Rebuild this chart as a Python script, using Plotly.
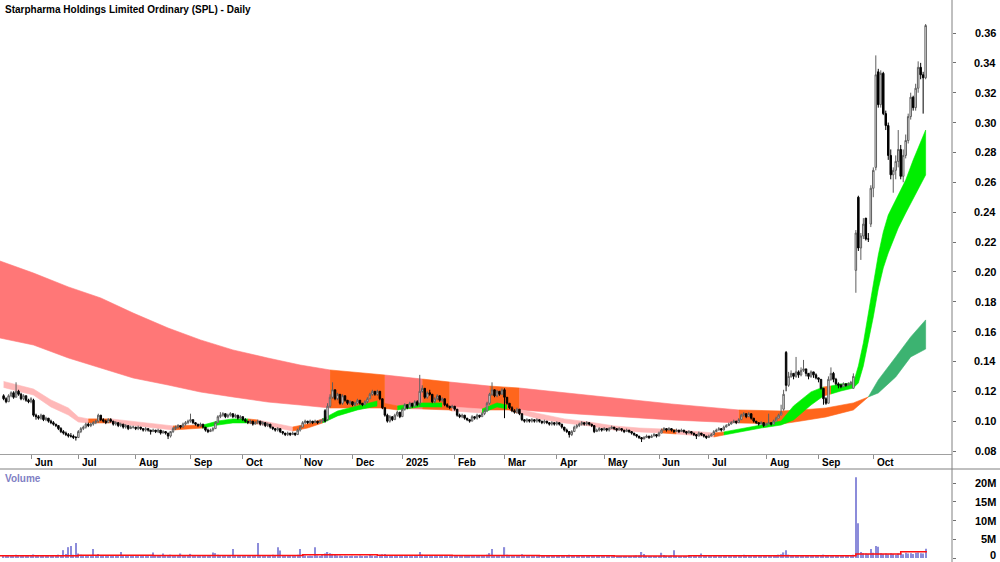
import numpy as np
import pandas as pd
import plotly.graph_objects as go
from plotly.subplots import make_subplots

TITLE = "Starpharma Holdings Limited Ordinary (SPL) - Daily"

# ---------------- daily OHLC (price x 1000), 17 May 2024 .. 30 Oct 2025 ----------------
opens = [
    117,115,113,117,119,116,120,118,115,117,114,
    113,114,104,103,102,104,101,102,100,99,98,97,95,93,92,91,90,90,89,
    89,93,95,96,98,97,98,99,100,104,101,100,99,101,100,98,99,97,98,96,97,95,96,
    96,95,96,95,94,95,94,93,94,93,94,92,93,92,90,93,95,96,97,96,98,99,
    100,101,99,98,97,98,96,94,93,94,95,99,103,104,105,103,104,105,103,104,102,
    103,101,100,99,100,98,99,100,98,99,97,98,96,95,94,95,93,92,91,92,91,92,91,
    94,96,99,100,99,100,99,100,99,100,107,101,110,116,121,115,118,112,117,114,112,
    113,111,112,114,112,111,113,115,118,120,118,120,115,109,104,100,103,101,104,106,
    103,108,111,109,112,110,113,112,120,122,116,119,118,113,115,117,114,115,111,110,109,
    110,108,104,103,104,102,101,100,103,102,104,103,105,107,112,118,121,117,120,118,
    121,116,112,109,107,106,108,105,101,100,101,100,101,100,101,100,99,100,99,98,99,
    98,99,98,96,94,93,91,93,96,97,98,99,98,99,98,97,93,94,95,
    94,95,94,95,96,95,94,95,94,93,94,93,92,91,90,89,88,89,90,89,90,91,
    90,92,94,95,94,95,94,93,94,93,94,93,92,93,92,91,90,92,91,90,
    89,90,91,93,94,95,94,96,97,98,99,100,99,101,104,105,103,105,102,100,99,98,99,
    97,98,99,98,100,102,104,108,146,124,130,132,130,133,131,134,135,132,130,133,131,
    129,128,122,115,112,128,132,128,125,124,123,125,124,125,122,201,250,216,224,236,222,232,
    256,270,334,312,333,306,298,278,265,268,274,282,264,278,288,304,317,310,323,337,332,330,
]
highs = [
    118,116,118,120,120,126,121,119,118,117,115,
    116,115,105,104,105,104,103,102,101,100,98,97,96,94,93,92,92,91,90,
    94,96,97,99,99,99,100,101,105,104,102,101,102,102,100,100,99,99,98,98,97,97,97,
    96,97,96,95,96,95,94,95,94,95,94,94,93,92,93,96,97,98,97,99,100,101,
    105,101,99,98,99,98,96,95,95,96,100,104,106,106,105,105,106,105,105,104,104,
    103,102,100,101,100,100,101,100,100,99,99,98,96,95,96,95,93,92,93,92,93,92,95,
    97,100,101,100,101,100,101,100,101,102,108,112,118,126,121,119,118,118,117,114,114,
    113,113,115,114,112,114,116,119,121,120,121,120,115,109,105,104,103,105,107,106,
    109,112,111,113,112,114,114,131,124,122,120,121,118,116,118,117,116,115,112,110,111,
    110,108,105,105,104,102,101,104,103,105,104,106,108,113,119,126,121,121,120,122,
    122,116,112,110,108,109,108,105,101,102,101,102,101,102,101,100,101,100,99,100,99,
    100,99,98,96,95,93,94,97,98,99,100,99,100,99,98,97,95,96,95,
    96,95,96,97,96,95,96,95,94,95,94,93,92,91,90,89,90,91,90,91,92,91,
    93,95,96,95,96,95,94,95,94,95,94,93,94,93,92,91,93,92,91,90,
    91,92,94,95,96,95,97,98,99,100,101,100,102,105,106,105,106,105,102,100,99,100,99,
    99,105,99,101,103,105,111,121,147,133,134,132,143,134,136,141,135,132,134,133,132,
    129,128,122,116,130,136,133,129,126,125,126,125,126,127,132,228,251,226,236,236,226,258,
    270,345,336,335,334,308,300,282,270,278,295,285,282,292,306,320,318,326,341,340,334,366,
]
lows = [
    114,112,113,116,115,116,117,114,114,113,112,
    112,103,101,101,101,100,100,99,98,97,96,94,92,91,90,89,89,88,87,
    89,92,94,95,96,96,97,98,99,100,99,98,99,99,97,97,96,96,95,95,94,95,95,
    94,94,94,93,93,93,91,93,92,92,91,92,91,88,89,92,94,95,95,96,97,98,
    99,98,97,96,96,95,93,92,93,93,95,99,102,103,102,102,103,102,102,101,101,
    100,99,98,98,97,98,98,97,97,96,96,95,94,93,93,92,91,90,90,90,91,90,91,
    93,96,98,98,98,98,99,98,99,99,99,100,109,115,114,114,111,111,113,111,111,
    110,110,111,111,110,111,112,115,117,117,117,114,108,103,99,99,100,101,103,102,
    103,107,108,109,109,110,110,110,119,115,115,117,112,112,114,113,113,110,109,108,109,
    107,103,102,102,101,100,99,100,101,101,102,103,104,106,111,117,116,116,117,118,
    102,111,108,106,105,105,104,100,99,99,99,99,99,99,99,98,98,98,97,97,97,
    97,97,95,93,92,89,90,93,95,96,97,97,97,97,96,92,93,93,93,
    94,93,93,95,94,93,94,93,92,93,92,91,90,89,88,86,88,89,88,89,90,89,
    90,92,94,93,94,93,92,93,92,93,92,91,92,91,90,88,90,90,89,88,
    89,90,91,93,94,93,94,96,97,98,99,98,99,101,103,102,103,101,99,98,97,98,96,
    97,98,97,98,100,102,104,107,120,123,129,128,129,129,130,133,130,128,129,129,128,
    126,121,111,111,112,127,126,124,122,122,123,123,124,124,122,186,214,208,222,221,220,230,
    250,268,310,310,305,295,275,262,253,262,270,262,260,276,286,302,308,308,320,329,306,329,
]
closes = [
    115,113,117,119,116,120,118,115,117,114,113,
    115,104,103,102,104,101,102,100,99,98,97,95,93,92,91,90,90,89,89,
    93,95,96,98,97,98,99,100,104,101,100,99,101,100,98,99,97,98,96,97,95,96,96,
    95,96,95,94,95,94,93,94,93,94,92,93,92,90,93,95,96,97,96,98,99,100,
    101,99,98,97,98,96,94,93,94,95,99,103,104,105,103,104,105,103,104,102,103,
    101,100,99,100,98,99,100,98,99,97,98,96,95,94,95,93,92,91,92,91,92,91,94,
    96,99,100,99,100,99,100,99,100,101,100,110,116,121,115,118,112,117,114,112,113,
    111,112,114,112,111,113,115,118,120,118,120,115,109,104,100,103,101,104,106,103,
    108,111,109,112,110,113,111,120,122,116,119,118,113,115,117,114,115,111,110,109,110,
    108,104,103,104,102,101,100,103,102,104,103,105,107,112,118,121,117,120,118,121,
    116,112,109,107,106,108,105,101,100,101,100,101,100,101,100,99,100,99,98,99,98,
    99,98,96,94,93,91,93,96,97,98,99,98,99,98,97,93,94,95,94,
    95,94,95,96,95,94,95,94,93,94,93,92,91,90,89,88,89,90,89,90,91,90,
    92,94,95,94,95,94,93,94,93,94,93,92,93,92,91,90,92,91,90,89,
    90,91,93,94,95,94,96,97,98,99,100,99,101,104,105,103,105,102,100,99,98,99,97,
    98,99,98,100,102,104,106,118,124,130,132,130,133,131,134,135,132,130,133,131,129,
    128,122,115,112,128,132,128,125,124,123,125,124,125,126,130,226,216,224,232,222,222,256,
    268,332,312,333,306,298,278,265,268,274,282,264,278,288,304,317,310,323,337,332,330,365,
]
# daily volume, thousands of shares
volumes = [
    450,380,620,510,300,880,420,350,560,410,330,
    600,950,520,480,390,610,450,700,820,540,660,900,760,2100,1100,2900,3200,850,4000,
    1200,900,760,650,540,800,2400,700,1100,600,450,520,380,610,470,550,680,1600,420,390,510,460,350,
    480,620,400,530,370,440,560,1500,600,490,420,1200,380,710,900,520,450,600,1200,430,560,480,
    1100,640,390,450,520,610,470,380,800,1500,1300,900,650,480,520,410,700,2400,560,430,390,
    480,350,420,600,510,380,4000,700,520,460,390,610,850,530,2900,2000,640,470,520,380,450,600,900,
    2400,800,650,520,610,480,2900,700,560,900,1200,1600,1300,1100,800,700,650,520,600,480,540,
    600,450,520,700,380,460,550,800,650,520,480,900,1000,1100,700,540,420,380,510,460,
    520,700,600,480,550,430,620,1600,900,700,560,480,620,510,450,380,420,560,470,390,430,
    500,620,480,410,390,560,470,520,430,380,460,540,700,900,1300,2400,800,650,560,480,
    2900,900,700,600,520,480,560,1000,450,380,420,500,360,410,470,390,350,430,380,460,400,
    500,420,600,800,650,900,560,480,420,500,380,450,410,360,480,800,520,430,400,
    460,380,420,500,440,360,410,470,390,430,520,480,600,700,650,1600,1100,560,480,500,450,420,
    520,1400,800,600,520,700,2100,600,480,520,430,460,400,510,470,600,550,1200,480,420,
    450,520,600,480,430,500,560,620,700,580,640,520,480,700,900,600,560,500,460,420,480,390,450,
    520,600,480,560,700,900,1000,1500,2100,900,700,620,800,560,600,700,520,480,500,460,440,
    520,800,900,700,600,560,480,420,400,380,450,420,400,480,900,21600,9300,1600,1300,1200,1100,2400,
    1400,3200,3000,1300,1100,1200,1000,1300,1100,900,1200,1300,1000,1400,1200,1300,1100,1400,1500,1300,1200,2500,
]
# volume average line (millions), step samples by bar index
vma_idx = [-1.5, 30, 60, 95, 120, 150, 180, 215, 245, 275, 305, 342, 360, 370.5]
vma_val = [0.6, 0.75, 0.7, 0.65, 0.85, 0.75, 0.65, 0.6, 0.55, 0.6, 0.6, 1.05, 1.7, 1.7]

# ---------------- long-term band samples (bar index, upper, lower, state) ----------------
lb_idx = [-1.5, 12, 26, 39, 52, 66, 79, 92, 106, 119, 131, 153, 168, 179, 195, 207, 230, 255,
          268, 295, 312, 320, 330, 341, 347, 351, 358, 364, 370]
lb_hi = [0.2073, 0.1992, 0.1899, 0.1825, 0.1724, 0.1624, 0.1544, 0.1477, 0.1423, 0.1376, 0.1343,
         0.1309, 0.1282, 0.1262, 0.1235, 0.1222, 0.1182, 0.1135, 0.1115, 0.1075, 0.1068, 0.1075,
         0.1088, 0.1122, 0.1162, 0.1276, 0.1430, 0.1564, 0.1678]
lb_lo = [0.1557, 0.1510, 0.1423, 0.1356, 0.1289, 0.1242, 0.1195, 0.1162, 0.1128, 0.1108, 0.1088,
         0.1088, 0.1081, 0.1075, 0.1075, 0.1075, 0.1048, 0.1021, 0.1008, 0.0988, 0.0981, 0.1001,
         0.1028, 0.1075, 0.1162, 0.1189, 0.1296, 0.1430, 0.1483]
lb_state = "RRRRRRRRRRORORORRRROOOOOGGGG"

# ---------------- short-term ribbon samples ----------------
sr_idx = [0, 12, 19, 26, 30, 34, 43, 50, 60, 68, 80, 86, 92, 98, 102, 110, 116, 122, 128, 134,
          142, 150, 152, 158, 167, 176, 180, 192, 198, 202, 206, 215, 225, 235, 245, 255, 264, 270,
          276, 285, 289, 296, 304, 312, 317, 324, 329, 332, 336, 341, 343, 345, 347, 349, 351, 353,
          355, 357, 359, 362, 365, 370]
sr_hi = [0.1266, 0.1215, 0.1142, 0.1088, 0.1028, 0.1015, 0.1015, 0.1001, 0.0981, 0.0968, 0.0974,
         0.1001, 0.1015, 0.1015, 0.1008, 0.0981, 0.0961, 0.0981, 0.1015, 0.1068, 0.1102, 0.1135,
         0.1122, 0.1102, 0.1122, 0.1122, 0.1095, 0.1081, 0.1122, 0.1108, 0.1081, 0.1048, 0.1015,
         0.0994, 0.0968, 0.0954, 0.0948, 0.0941, 0.0934, 0.0921, 0.0928, 0.0948, 0.0974, 0.1001,
         0.1102, 0.1196, 0.1229, 0.1236, 0.1249, 0.1256, 0.1370, 0.1524, 0.1725, 0.1926, 0.2113,
         0.2267, 0.2381, 0.2448, 0.2515, 0.2615, 0.2749, 0.2950]
sr_lo = [0.1226, 0.1175, 0.1095, 0.1041, 0.0994, 0.0988, 0.0988, 0.0974, 0.0954, 0.0941, 0.0954,
         0.0974, 0.0988, 0.0988, 0.0981, 0.0954, 0.0934, 0.0954, 0.0988, 0.1035, 0.1075, 0.1102,
         0.1088, 0.1075, 0.1095, 0.1095, 0.1068, 0.1055, 0.1095, 0.1082, 0.1055, 0.1014, 0.0988,
         0.0968, 0.0941, 0.0928, 0.0921, 0.0914, 0.0907, 0.0894, 0.0907, 0.0928, 0.0954, 0.0974,
         0.1008, 0.1108, 0.1169, 0.1182, 0.1202, 0.1222, 0.1256, 0.1370, 0.1524, 0.1698, 0.1885,
         0.2026, 0.2127, 0.2213, 0.2294, 0.2394, 0.2495, 0.2649]
sr_state = "PPPPPOPPPOGGGOPPOOGGGOOGGOPGGOPPPPPPOPPOGGGGGGOG" + "G" * 13

month_labels = ["Jun", "Jul", "Aug", "Sep", "Oct", "Nov", "Dec", "2025", "Feb", "Mar",
                "Apr", "May", "Jun", "Jul", "Aug", "Sep", "Oct"]
price_ticks = [0.08, 0.10, 0.12, 0.14, 0.16, 0.18, 0.20, 0.22, 0.24, 0.26, 0.28, 0.30, 0.32, 0.34, 0.36]
vol_ticks = [0, 5, 10, 15, 20]
vol_tick_text = ["0", "5M", "10M", "15M", "20M"]

# ---------------- calendar / derived arrays ----------------
holidays = pd.to_datetime(["2024-06-10", "2024-12-25", "2024-12-26", "2025-01-01", "2025-01-27",
                           "2025-04-18", "2025-04-21", "2025-04-25", "2025-06-09"])
dates = pd.bdate_range("2024-05-17", "2025-10-30")
dates = dates[~dates.isin(holidays)]
n = len(closes)
idx = np.arange(n)
month_pos = [i for i in range(1, min(len(dates), n)) if dates[i].month != dates[i - 1].month]

o = np.array(opens) / 1000.0
c = np.array(closes) / 1000.0
h = np.maximum(np.array(highs) / 1000.0, np.maximum(o, c))
l = np.minimum(np.array(lows) / 1000.0, np.minimum(o, c))
vol = np.array(volumes) * 1000.0

W, H = 1000, 562
PLOT_R = 952
PRICE_BOTTOM = 454
VOL_TOP, VOL_BOTTOM = 469, 560
FONT = "Arial, Liberation Sans, sans-serif"

fig = make_subplots(rows=2, cols=1, shared_xaxes=True, vertical_spacing=0)

LB_COL = {"R": "#FF7777", "O": "#FF661C", "G": "#3CB371"}
SR_COL = {"P": "#FFB8B8", "O": "#FF661C", "G": "#00EE00"}


def add_band(xs, hi, lo, states, cmap):
    j = 0
    m = len(states)
    while j < m:
        k = j
        while k + 1 < m and states[k + 1] == states[j]:
            k += 1
        xx = list(xs[j:k + 2])
        yy = list(hi[j:k + 2]) + list(lo[j:k + 2])[::-1]
        col = cmap[states[j]]
        fig.add_trace(go.Scatter(x=xx + xx[::-1], y=yy, fill="toself", fillcolor=col,
                                 mode="lines", line=dict(color=col, width=0.6),
                                 hoverinfo="skip", showlegend=False), row=1, col=1)
        j = k + 1


add_band(lb_idx, lb_hi, lb_lo, lb_state, LB_COL)
add_band(sr_idx, sr_hi, sr_lo, sr_state, SR_COL)

# candles go on an overlaid axis so they are painted above the ribbons
fig.add_trace(go.Candlestick(
    x=idx, open=o, high=h, low=l, close=c, xaxis="x", yaxis="y3",
    increasing=dict(line=dict(color="#5E5E5E", width=1), fillcolor="#FFFFFF"),
    decreasing=dict(line=dict(color="#000000", width=1), fillcolor="#000000"),
    whiskerwidth=0, showlegend=False))

fig.add_trace(go.Bar(x=idx, y=vol, width=0.5, marker=dict(color="#8C8CDA", line=dict(width=0)),
                     showlegend=False), row=2, col=1)
fig.add_trace(go.Scatter(x=vma_idx, y=np.array(vma_val) * 1e6, mode="lines", line_shape="hv",
                         line=dict(color="#FF1010", width=1.5), showlegend=False), row=2, col=1)

# ranges so that bar spacing and values land where the reference puts them
px_per_bar = 2.492
x_off = 3.6
x_range = [(0 - x_off) / px_per_bar, (PLOT_R - x_off) / px_per_bar]
p_per_px = 0.02 / 29.857
y0_price = 0.36 + 33 * p_per_px
y1_price = 0.36 - (PRICE_BOTTOM - 33) * p_per_px
v_per_px = 20e6 / (558 - 483.3)
vol_range = [-(VOL_BOTTOM - 558) * v_per_px, (558 - VOL_TOP) * v_per_px]

fig.update_layout(
    width=W, height=H, margin=dict(l=0, r=W - PLOT_R, t=0, b=0),
    paper_bgcolor="white", plot_bgcolor="white", showlegend=False,
    font=dict(family=FONT, color="#000000"), boxgap=0.15,
    xaxis=dict(domain=[0, 1], range=x_range, showgrid=False, zeroline=False,
               showline=True, linecolor="#A0A0A0", linewidth=1,
               ticks="outside", tickvals=month_pos, ticklen=4, tickcolor="#909090",
               showticklabels=False, rangeslider=dict(visible=False)),
    xaxis2=dict(domain=[0, 1], range=x_range, showgrid=False, zeroline=False,
                showline=False, ticks="", showticklabels=False, matches="x"),
    yaxis=dict(domain=[1 - PRICE_BOTTOM / H, 1], range=[y1_price, y0_price], side="right",
               showgrid=False, zeroline=False, showline=False,
               ticks="outside", tickvals=price_ticks, ticklen=3, tickcolor="#707070",
               showticklabels=False),
    yaxis3=dict(overlaying="y", anchor="x", range=[y1_price, y0_price], side="right",
                showgrid=False, zeroline=False, showline=False, ticks="",
                showticklabels=False),
    yaxis2=dict(domain=[1 - VOL_BOTTOM / H, 1 - VOL_TOP / H], range=vol_range, side="right",
                showgrid=False, zeroline=False, showline=False,
                ticks="outside", tickvals=[v * 1e6 for v in vol_ticks], ticklen=3,
                tickcolor="#707070", showticklabels=False),
)

# axis lines / separators
fig.add_shape(type="line", xref="paper", yref="paper", x0=1, x1=1, y0=0, y1=1,
              line=dict(color="#808080", width=1))
fig.add_shape(type="line", xref="paper", yref="paper", x0=0, x1=W / PLOT_R,
              y0=1 - VOL_TOP / H, y1=1 - VOL_TOP / H, line=dict(color="#808080", width=1))

ann = []
ann.append(dict(text="<b>" + TITLE + "</b>", xref="paper", yref="paper", x=3 / PLOT_R,
                y=1 - 9 / H, xanchor="left", yanchor="middle", showarrow=False,
                font=dict(size=10, family=FONT, color="#000000")))
ann.append(dict(text="<b>Volume</b>", xref="paper", yref="paper", x=3 / PLOT_R,
                y=1 - 478 / H, xanchor="left", yanchor="middle", showarrow=False,
                font=dict(size=10, family=FONT, color="#7F7FC4")))
for pos, lab in zip(month_pos, month_labels):
    ann.append(dict(text="<b>" + lab + "</b>", xref="x", yref="paper", x=pos + 0.6,
                    y=1 - 462 / H, xanchor="left", yanchor="middle", showarrow=False,
                    font=dict(size=10, family=FONT, color="#000000")))
for v in price_ticks:
    ann.append(dict(text="<b>%.2f</b>" % v, xref="paper", yref="y", x=998 / PLOT_R, y=v,
                    xanchor="right", yanchor="middle", showarrow=False,
                    font=dict(size=11, family=FONT, color="#000000")))
for v, t in zip(vol_ticks, vol_tick_text):
    if v == 0:
        ann.append(dict(text="<b>" + t + "</b>", xref="paper", yref="paper", x=998 / PLOT_R,
                        y=1 - 555 / H, xanchor="right", yanchor="middle", showarrow=False,
                        font=dict(size=11, family=FONT, color="#000000")))
    else:
        ann.append(dict(text="<b>" + t + "</b>", xref="paper", yref="y2", x=998 / PLOT_R,
                        y=v * 1e6, xanchor="right", yanchor="middle", showarrow=False,
                        font=dict(size=11, family=FONT, color="#000000")))
fig.update_layout(annotations=ann)

fig.write_html("out.html")
